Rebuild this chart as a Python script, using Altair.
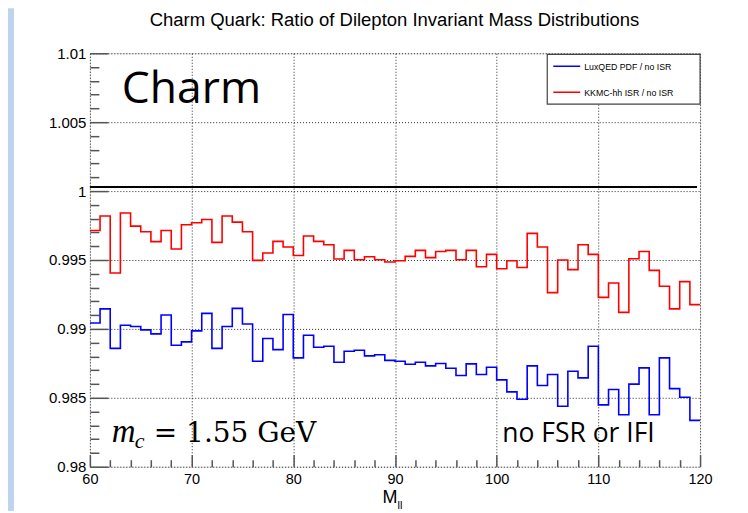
import altair as alt
import pandas as pd

# ---------------- data ----------------
mll_edges = list(range(60, 121))  # 1 GeV bins, 60..120

lux_ratio = [
    0.99043, 0.99145, 0.98859, 0.99026, 0.99017, 0.98993, 0.98964, 0.99101, 0.98881, 0.98906,
    0.98986, 0.99113, 0.98859, 0.99017, 0.99149, 0.99036, 0.98765, 0.98930, 0.98850, 0.99104,
    0.98790, 0.98954, 0.98867, 0.98874, 0.98758, 0.98838, 0.98845, 0.98804, 0.98812, 0.98772,
    0.98765, 0.98743, 0.98758, 0.98732, 0.98749, 0.98715, 0.98662, 0.98746, 0.98669, 0.98722,
    0.98630, 0.98543, 0.98490, 0.98732, 0.98589, 0.98669, 0.98439, 0.98693, 0.98645, 0.98874,
    0.98449, 0.98560, 0.98377, 0.98599, 0.98717, 0.98377, 0.98790, 0.98567, 0.98504, 0.98336,
]

kkmc_ratio = [
    0.99714, 0.99819, 0.99406, 0.99841, 0.99746, 0.99705, 0.99633, 0.99714, 0.99580, 0.99756,
    0.99770, 0.99794, 0.99628, 0.99819, 0.99775, 0.99705, 0.99497, 0.99551, 0.99635, 0.99594,
    0.99533, 0.99674, 0.99635, 0.99611, 0.99507, 0.99570, 0.99502, 0.99524, 0.99502, 0.99486,
    0.99495, 0.99526, 0.99570, 0.99517, 0.99562, 0.99570, 0.99502, 0.99570, 0.99451, 0.99541,
    0.99437, 0.99495, 0.99446, 0.99693, 0.99594, 0.99263, 0.99500, 0.99430, 0.99611, 0.99541,
    0.99229, 0.99333, 0.99120, 0.99509, 0.99562, 0.99425, 0.99309, 0.99145, 0.99343, 0.99176,
]

ref_level = 1.0003
ref_x = [60, 119.7]

series_labels = ["LuxQED PDF / no ISR", "KKMC-hh ISR / no ISR"]
series_colors = ["#0000ff", "#ff0000"]

x_major = [60, 70, 80, 90, 100, 110, 120]
x_minor = [62, 64, 66, 68, 72, 74, 76, 78, 82, 84, 86, 88, 92, 94, 96, 98,
           102, 104, 106, 108, 112, 114, 116, 118]
y_major = [0.98, 0.985, 0.99, 0.995, 1.0, 1.005, 1.01]
y_minor = [0.981, 0.982, 0.983, 0.984, 0.986, 0.987, 0.988, 0.989,
           0.991, 0.992, 0.993, 0.994, 0.996, 0.997, 0.998, 0.999,
           1.001, 1.002, 1.003, 1.004, 1.006, 1.007, 1.008, 1.009]

title_text = "Charm Quark: Ratio of Dilepton Invariant Mass Distributions"

# ---------------- tables ----------------
def step_table(vals, name):
    return pd.DataFrame({
        "M": mll_edges,
        "v": vals + [vals[-1]],
        "series": name,
    })

df_lux = step_table(lux_ratio, series_labels[0])
df_kkmc = step_table(kkmc_ratio, series_labels[1])
df_ref = pd.DataFrame({"x0": [ref_x[0]], "x1": [ref_x[1]], "y": [ref_level]})

W, H = 611, 414
FONT = "Liberation Sans"
AX = "#555555"

x_scale = alt.Scale(domain=[60, 120], nice=False, zero=False)
y_scale = alt.Scale(domain=[0.98, 1.01], nice=False, zero=False)

# axis with labels + dotted grid
x_lab_axis = alt.Axis(values=x_major, title=None, grid=True, gridDash=[1, 2], gridColor="#000000",
                      gridOpacity=0.85, gridWidth=1, ticks=False, domain=False, labelFont=FONT,
                      labelFontSize=14.5, labelColor="#000000", labelPadding=6, format="d",
                      labelFlush=False)
y_lab_axis = alt.Axis(values=y_major, title=None, grid=True, gridDash=[1, 2], gridColor="#000000",
                      gridOpacity=0.85, gridWidth=1, ticks=False, domain=False, labelFont=FONT,
                      labelFontSize=15, labelColor="#000000", labelPadding=4, format="~g",
                      labelFlush=False)
# inward major ticks
x_maj_axis = alt.Axis(values=x_major, title=None, grid=False, labels=False, domain=False,
                      orient="bottom", offset=-12, tickSize=12, tickColor=AX, tickWidth=1.5)
y_maj_axis = alt.Axis(values=y_major, title=None, grid=False, labels=False, domain=False,
                      orient="left", offset=-18, tickSize=18, tickColor=AX, tickWidth=1.5)
# inward minor ticks
x_min_axis = alt.Axis(values=x_minor, title=None, grid=False, labels=False, domain=False,
                      orient="bottom", offset=-7, tickSize=7, tickColor=AX, tickWidth=1.5)
y_min_axis = alt.Axis(values=y_minor, title=None, grid=False, labels=False, domain=False,
                      orient="left", offset=-9, tickSize=9, tickColor=AX, tickWidth=1.5)

color_enc = alt.Color("series:N", scale=alt.Scale(domain=series_labels, range=series_colors),
                      legend=None)

lux_line = alt.Chart(df_lux).mark_line(interpolate="step-after", strokeWidth=1.6, clip=True).encode(
    x=alt.X("M:Q", scale=x_scale, axis=x_lab_axis),
    y=alt.Y("v:Q", scale=y_scale, axis=y_lab_axis),
    color=color_enc,
)

kkmc_line = alt.Chart(df_kkmc).mark_line(interpolate="step-after", strokeWidth=1.6, clip=True).encode(
    x=alt.X("M:Q", scale=x_scale, axis=x_maj_axis),
    y=alt.Y("v:Q", scale=y_scale, axis=y_maj_axis),
    color=color_enc,
)

ref_line = alt.Chart(df_ref).mark_rule(color="#000000", strokeWidth=2).encode(
    x=alt.X("x0:Q", scale=x_scale, axis=x_min_axis),
    x2="x1:Q",
    y=alt.Y("y:Q", scale=y_scale, axis=y_min_axis),
)

# ---------------- slide decoration (light blue strip at the left edge) ----------------
one = pd.DataFrame({"k": [0]})
side_strip = alt.Chart(one).mark_rect(fill="#bcd5ec", stroke=None).encode(
    x=alt.value(-82), x2=alt.value(-76), y=alt.value(-45), y2=alt.value(460))

# ---------------- legend box (ROOT style) ----------------
leg_box = alt.Chart(one).mark_rect(fill="white", stroke="#444444", strokeWidth=1.2).encode(
    x=alt.value(458), x2=alt.value(611), y=alt.value(1), y2=alt.value(51))
leg_l1 = alt.Chart(one).mark_rule(color=series_colors[0], strokeWidth=1.5).encode(
    x=alt.value(464), x2=alt.value(491), y=alt.value(13))
leg_l2 = alt.Chart(one).mark_rule(color=series_colors[1], strokeWidth=1.5).encode(
    x=alt.value(464), x2=alt.value(491), y=alt.value(39))
leg_t1 = alt.Chart(one).mark_text(text=series_labels[0], font=FONT, fontSize=8.8, align="left",
                                  baseline="middle", color="#000").encode(
    x=alt.value(495), y=alt.value(13.5))
leg_t2 = alt.Chart(one).mark_text(text=series_labels[1], font=FONT, fontSize=8.8, align="left",
                                  baseline="middle", color="#000").encode(
    x=alt.value(495), y=alt.value(39.5))

# ---------------- annotations ----------------
title_txt = alt.Chart(one).mark_text(text=title_text, font=FONT, fontSize=18.5, align="center",
                                     baseline="alphabetic", color="#000").encode(
    x=alt.value(305), y=alt.value(-27))
charm_txt = alt.Chart(one).mark_text(text="Charm", font="Open Sans", fontSize=44.5, align="left",
                                     baseline="alphabetic", color="#000").encode(
    x=alt.value(32), y=alt.value(50))
m_txt = alt.Chart(one).mark_text(text="m", font="Liberation Serif", fontStyle="italic", fontSize=33,
                                 align="left", baseline="alphabetic", color="#000").encode(
    x=alt.value(22), y=alt.value(389))
c_txt = alt.Chart(one).mark_text(text="c", font="Liberation Serif", fontStyle="italic", fontSize=22,
                                 align="left", baseline="alphabetic", color="#000").encode(
    x=alt.value(45), y=alt.value(395))
eq_txt = alt.Chart(one).mark_text(text="= 1.55 GeV", font="DejaVu Serif", fontSize=28,
                                  align="left", baseline="alphabetic", color="#000").encode(
    x=alt.value(64), y=alt.value(389))
fsr_txt = alt.Chart(one).mark_text(text="no FSR or IFI", font="Open Sans", fontSize=26.5, align="left",
                                   baseline="alphabetic", color="#000").encode(
    x=alt.value(413), y=alt.value(389))
mll_M = alt.Chart(one).mark_text(text="M", font=FONT, fontSize=18, align="left",
                                 baseline="alphabetic", color="#000").encode(
    x=alt.value(293), y=alt.value(450))
mll_sub = alt.Chart(one).mark_text(text="ll", font=FONT, fontSize=11, align="left",
                                   baseline="alphabetic", color="#000").encode(
    x=alt.value(308), y=alt.value(456))

chart = alt.layer(
    lux_line, kkmc_line, ref_line, side_strip,
    leg_box, leg_l1, leg_l2, leg_t1, leg_t2,
    title_txt, charm_txt, m_txt, c_txt, eq_txt, fsr_txt, mll_M, mll_sub,
).resolve_axis(
    x="independent", y="independent"
).properties(
    width=W, height=H,
    autosize=alt.AutoSizeParams(type="none"),
    padding={"left": 82, "top": 45, "right": 40, "bottom": 44},
).configure_view(
    stroke=AX, strokeWidth=2
).configure(background="white")

chart.save("out.html", embed_options={"renderer": "svg", "actions": False})
